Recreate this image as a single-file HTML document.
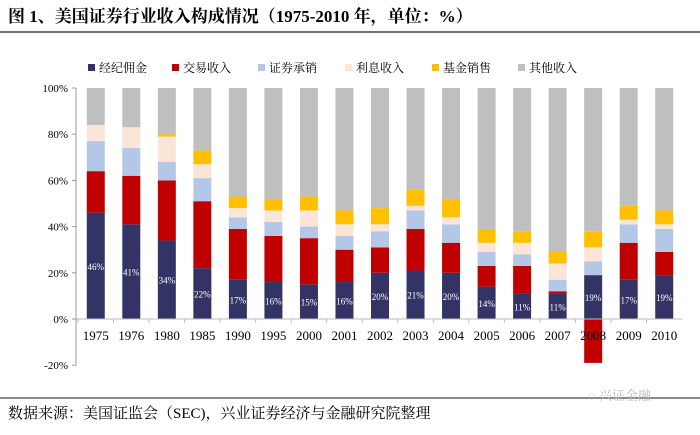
<!DOCTYPE html>
<html><head><meta charset="utf-8"><style>
body{margin:0;background:#fff;width:700px;height:430px;overflow:hidden;font-family:"Liberation Serif","Noto Serif CJK SC",serif}
</style></head><body>
<svg width="700" height="430">
<text x="8" y="22" font-size="17" font-weight="bold" fill="#000">图 1、美国证券行业收入构成情况（1975-2010 年，单位：%）</text>
<line x1="0" y1="32" x2="700" y2="32" stroke="#444" stroke-width="1.5"/>
<g id="legend"></g>
<g id="plot"></g>
<line x1="0" y1="398" x2="700" y2="398" stroke="#444" stroke-width="1.2"/>
<text x="588" y="400" font-size="13" fill="#bbb">◌ 兴证金融</text>
<text x="8" y="418" font-size="15" fill="#000">数据来源：美国证监会（SEC)，兴业证券经济与金融研究院整理</text>
</svg>
<script>
const categories=["1975","1976","1980","1985","1990","1995","2000","2001","2002","2003","2004","2005","2006","2007","2008","2009","2010"];
const seriesNames=["经纪佣金","交易收入","证券承销","利息收入","基金销售","其他收入"];
const brokerage=[46,41,34,22,17,16,15,16,20,21,20,14,11,11,19,17,19];
const trading=[18,21,26,29,22,20,20,14,11,18,13,9,12,1,-19,16,10];
const underwriting=[13,12,8,10,5,6,5,6,7,8,8,6,5,5,6,8,10];
const interest=[7,9,11,6,4,5,7,5,3,2,3,4,5,7,6,2,2];
const funds=[0,0,1,6,5,5,6,6,7,7,8,6,5,5,7,6,6];
const other=[16,17,20,27,47,48,47,53,52,44,48,61,62,71,62,51,53];
const yTicks=[-20,0,20,40,60,80,100];
const colors=["#333366","#c00000","#b4c7e7","#fbe5d6","#ffc000","#bfbfbf"];
const NS="http://www.w3.org/2000/svg";
const y=v=>319-v*2.31;
const x0=78,step=(682-78)/categories.length;
const cx=i=>x0+step*(i+0.5);
const plot=document.getElementById('plot');
function mk(t,a,p){const e=document.createElementNS(NS,t);for(const k in a)e.setAttribute(k,a[k]);(p||plot).appendChild(e);return e;}
const ya=mk('line',{x1:76,y1:y(100),x2:76,y2:y(-20),stroke:'#999'});


yTicks.forEach(t=>{
 const l=mk('line',{x1:72,y1:y(t),x2:76,y2:y(t),stroke:'#999'});
 
 
 const tx=mk('text',{x:68,y:y(t)+4,'text-anchor':'end','font-size':11,fill:'#000'});
 tx.textContent=t+'%';
 
 
});
const series=[brokerage,trading,underwriting,interest,funds,other];
categories.forEach((c,i)=>{
 let pos=0;const w=18;
 series.forEach((s,k)=>{
  const v=s[i];let top,bot;
  if(v<0){top=y(0);bot=y(v);}else{top=y(pos+v);bot=y(pos);pos+=v;}
  if(bot-top<=0)return;
  const r=mk('rect',{x:cx(i)-w/2,y:top,width:w,height:bot-top,fill:colors[k]});
  
  
 });
 const lb=mk('text',{x:cx(i),y:y(brokerage[i]/2)+4,'text-anchor':'middle','font-size':9,fill:'#fff'});
 lb.textContent=brokerage[i]+'%';
 
 
 const xl=mk('text',{x:cx(i),y:340,'text-anchor':'middle','font-size':13,fill:'#000'});
 xl.textContent=c;
 
 
 const tk=mk('line',{x1:x0+step*i,y1:y(0),x2:x0+step*i,y2:y(0)+4,stroke:'#bbb'});
 
 
});
const xa=mk('line',{x1:76,y1:y(0),x2:682,y2:y(0),stroke:'#bbb'});


const lg=document.getElementById('legend');
const lx=[88,172,258,345,432,518];
seriesNames.forEach((n,k)=>{
 const r=mk('rect',{x:lx[k],y:64,width:7,height:7,fill:colors[k]},lg);
 
 
 const t=mk('text',{x:lx[k]+11,y:72,'font-size':12,fill:'#000'},lg);
 t.textContent=n;
 
 
});
</script>
</body></html>
